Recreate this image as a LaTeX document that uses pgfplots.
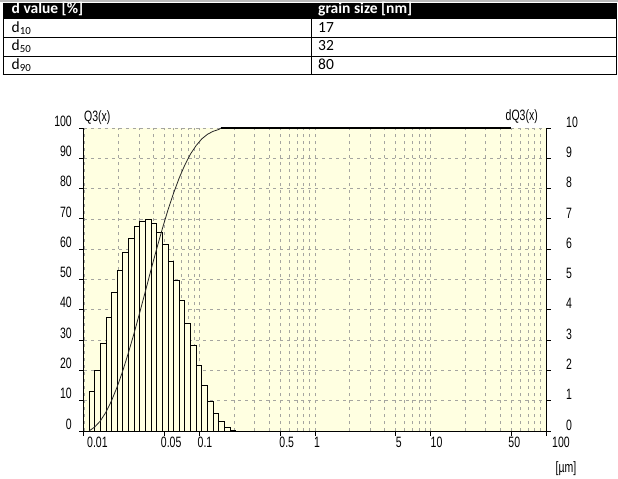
\documentclass[border=0pt]{standalone}
\usepackage{fontspec}
\usepackage{pgfplots}
\pgfplotsset{compat=1.18}
\setmainfont{Carlito}
\newfontfamily\narrowfont{Liberation Sans}[FakeStretch=0.7]
\definecolor{bgyellow}{RGB}{255,255,225}
\definecolor{gridgray}{RGB}{165,165,160}
\begin{document}
\begin{tikzpicture}
\useasboundingbox (0,0) rectangle (618bp,-479bp);
\fill[white] (0,0) rectangle (618bp,-479bp);
% ---- table ----
\draw[gray!55, line width=1.5bp] (0,-0.75bp) -- (618bp,-0.75bp);
\fill[black] (2.5bp,-2.5bp) rectangle (616.5bp,-18.5bp);
\draw[black, line width=1bp] (3bp,-18bp) -- (3bp,-74.5bp);
\draw[black, line width=1bp] (311bp,-18bp) -- (311bp,-74.5bp);
\draw[black, line width=1bp] (616bp,-18bp) -- (616bp,-74.5bp);
\draw[black, line width=1bp] (3bp,-37.3bp) -- (616bp,-37.3bp);
\draw[black, line width=1bp] (3bp,-56bp) -- (616bp,-56bp);
\draw[black, line width=1bp] (2.5bp,-74.5bp) -- (616.5bp,-74.5bp);
\begin{scope}[every node/.style={inner sep=0pt, anchor=base west, font=\fontsize{15.5bp}{17bp}\selectfont}]
\node[text=white, font=\fontsize{15.5bp}{17bp}\selectfont\bfseries] at (11.5bp,-13.8bp) {d value [\%]};
\node[text=white, font=\fontsize{15.5bp}{17bp}\selectfont\bfseries] at (318bp,-13.8bp) {grain size [nm]};
\node at (11.5bp,-32bp) {d\textsubscript{10}};
\node at (11.5bp,-50.5bp) {d\textsubscript{50}};
\node at (11.5bp,-69bp) {d\textsubscript{90}};
\node at (318bp,-32bp) {17};
\node at (318bp,-50.5bp) {32};
\node at (318bp,-69bp) {80};
\end{scope}
% ---- main axis: Q3 ----
\begin{axis}[
  at={(84bp,-431bp)}, anchor=south west,
  scale only axis, width=462bp, height=303bp,
  xmode=log, xmin=0.01, xmax=100, ymin=0, ymax=100,
  axis x line*=bottom, axis y line*=left,
  axis line style={line width=1bp, black},
  xtick={0.01,0.05,0.1,0.5,1,5,10,50,100},
  xticklabels={\hspace*{3bp}0.01,\hspace*{-4bp}0.05,\hspace*{-2bp}0.1,\hspace*{-1bp}0.5,\hspace*{-1bp}1,5,10,\hspace*{-3bp}50,\hspace*{6bp}100},
  minor xtick={0.02,0.03,0.04,0.06,0.07,0.08,0.09,0.2,0.3,0.4,0.6,0.7,0.8,0.9,2,3,4,6,7,8,9,20,30,40,60,70,80,90},
  ytick={0,10,20,30,40,50,60,70,80,90,100},
  grid=both,
  major grid style={gridgray, dash pattern=on 3bp off 4bp, line width=0.8bp},
  minor grid style={gridgray, dash pattern=on 3bp off 4bp, line width=0.8bp},
  tick align=outside, major tick length=5bp, minor tick length=0pt,
  tick style={black, line width=1bp},
  tick label style={font=\narrowfont\fontsize{15bp}{17bp}\selectfont},
  /pgf/number format/assume math mode=true,
  xticklabel style={anchor=north west, inner sep=0pt, yshift=-1bp},
  yticklabel style={anchor=east, inner sep=0pt, xshift=-7bp, yshift=7bp},
  axis background/.style={fill=bgyellow},
  clip=false,
]
% dQ3 histogram (in % of left scale, i.e. dQ3 x 10)
\addplot[ybar interval, fill=bgyellow, draw=black, line width=0.8bp] coordinates {
(0.011053,13.2) (0.012367,20.1) (0.013838,28.9) (0.015484,37.4) (0.017325,45.6)
(0.019386,53.1) (0.021691,59.1) (0.024271,63.7) (0.027157,67.6) (0.030387,69.3)
(0.034000,69.8) (0.038044,68.5) (0.042568,65.4) (0.047630,61.5) (0.053295,56.0)
(0.059633,49.8) (0.066724,43.0) (0.074659,35.5) (0.083538,28.1) (0.093472,21.5)
(0.10459,14.9) (0.11703,9.9) (0.13094,5.8) (0.14651,3.1) (0.16394,1.1)
(0.18343,0.3) (0.20525,0)};
% Q3 cumulative curve
\addplot[black!85, line width=0.8bp] coordinates {
(0.011053,0) (0.012367,1.3) (0.013838,3.3) (0.015484,6.2) (0.017325,10.0)
(0.019386,14.6) (0.021691,19.9) (0.024271,25.9) (0.027157,32.3) (0.030387,39.1)
(0.034000,46.1) (0.038044,53.2) (0.042568,60.1) (0.047630,66.7) (0.053295,72.9)
(0.059633,78.5) (0.066724,83.5) (0.074659,87.8) (0.083538,91.4) (0.093472,94.2)
(0.10459,96.4) (0.11703,97.9) (0.13094,98.9) (0.14651,99.5) (0.15400,100)};
\addplot[black, line width=2bp] coordinates {(0.154,100) (50,100)};
\end{axis}
% ---- right axis: dQ3 ----
\begin{axis}[
  at={(84bp,-431bp)}, anchor=south west,
  scale only axis, width=462bp, height=303bp,
  xmode=log, xmin=0.01, xmax=100, ymin=0, ymax=10,
  axis x line=none, axis y line*=right,
  axis line style={line width=1bp, black},
  ytick={0,1,2,3,4,5,6,7,8,9,10},
  tick align=outside, major tick length=5bp,
  tick style={black, line width=1bp},
  tick label style={font=\narrowfont\fontsize{15bp}{17bp}\selectfont},
  /pgf/number format/assume math mode=true,
  yticklabel style={anchor=west, inner sep=0pt, xshift=15bp, yshift=6bp},
]
\addplot[draw=none] coordinates {(1,0) (1,10)};
\end{axis}
% ---- axis titles ----
\node[anchor=base west, inner sep=0pt, font=\narrowfont\fontsize{15bp}{17bp}\selectfont] at (84bp,-121bp) {Q3(x)};
\node[anchor=base east, inner sep=0pt, font=\narrowfont\fontsize{15bp}{17bp}\selectfont] at (538bp,-120bp) {dQ3(x)};
\node[anchor=base, inner sep=0pt, font=\narrowfont\fontsize{15bp}{17bp}\selectfont] at (566bp,-472bp) {[µm]};
\end{tikzpicture}
\end{document}
